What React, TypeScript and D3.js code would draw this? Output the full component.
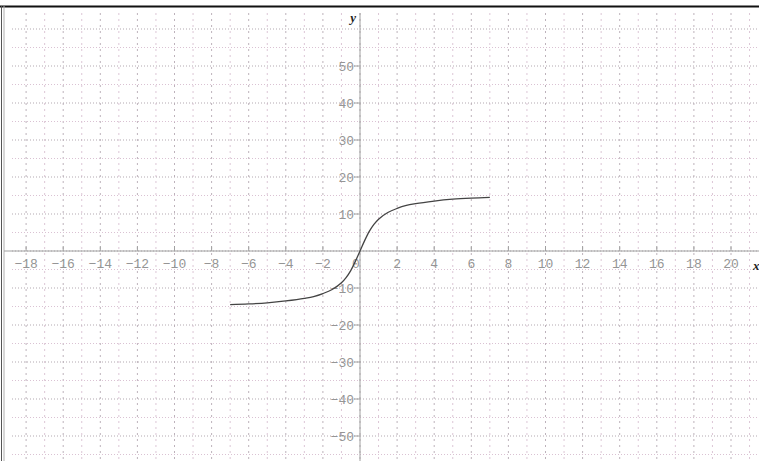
import React from "react";
import * as d3 from "d3";

// Sampled points of the plotted curve
const curveX = [-7, -6, -5, -4, -3, -2.5, -2, -1.5, -1, -0.75, -0.5, -0.25, 0, 0.25, 0.5, 0.75, 1, 1.5, 2, 2.5, 3, 4, 5, 6, 7];
const curveY = [-14.5, -14.3, -14.0, -13.5, -12.8, -12.3, -11.5, -10.4, -8.6, -7.2, -5.3, -2.8, 0, 2.8, 5.3, 7.2, 8.6, 10.4, 11.5, 12.3, 12.8, 13.5, 14.0, 14.3, 14.5];

// Axis tick labels
const xTicks = [-18, -16, -14, -12, -10, -8, -6, -4, -2, 0, 2, 4, 6, 8, 10, 12, 14, 16, 18, 20];
const yTicks = [-50, -40, -30, -20, -10, 10, 20, 30, 40, 50];

const W = 759;
const H = 461;
const gridLeft = 12;
const gridTop = 13;

const x = d3.scaleLinear().domain([-18, 20]).range([360 - 18 * 18.55, 360 + 20 * 18.55]);
const y = d3.scaleLinear().domain([-50, 50]).range([251 + 185, 251 - 185]);

const fmt = (v: number) => (v < 0 ? "\u2212" + Math.abs(v) : String(v));

export default function App() {
  const x0 = x(0);
  const y0 = y(0);

  // grid: vertical lines every unit, horizontal lines every 5 units
  const vLines = d3.range(-19, 22).filter((v) => x(v) >= gridLeft && x(v) <= W);
  const hLines = d3.range(-55, 66, 5).filter((v) => y(v) >= gridTop && y(v) <= H);

  const pts: [number, number][] = curveX.map((v, i) => [v, curveY[i]]);
  const line = d3
    .line<[number, number]>()
    .x((d) => x(d[0]))
    .y((d) => y(d[1]))
    .curve(d3.curveMonotoneX);

  const mono = "'Liberation Mono', 'DejaVu Sans Mono', monospace";
  const labelColor = "#959595";

  return (
    <svg
      width={W}
      height={H}
      style={{ position: "absolute", left: 0, top: 0, display: "block", background: "#fff" }}
    >
      {/* frame */}
      <line x1={0} x2={W} y1={6.5} y2={6.5} stroke="#111" strokeWidth={2} />
      <line x1={1.5} x2={1.5} y1={6} y2={H} stroke="#555" strokeWidth={1} />
      <line x1={4} x2={4} y1={6} y2={H} stroke="#b0b0b0" strokeWidth={1} />

      {/* grid */}
      <g>
        {vLines.map((v) => (
          <line
            key={"v" + v}
            x1={x(v)}
            x2={x(v)}
            y1={gridTop}
            y2={H}
            stroke={v % 2 === 0 ? "#bdb2bb" : "#dcc6d6"}
            strokeWidth={1}
            strokeDasharray="2,4"
          />
        ))}
        {hLines.map((v) => (
          <line
            key={"h" + v}
            x1={gridLeft}
            x2={W}
            y1={y(v)}
            y2={y(v)}
            stroke={v % 10 === 0 ? "#b3a9b1" : "#dac2d3"}
            strokeWidth={1}
            strokeDasharray="1,2"
          />
        ))}
      </g>

      {/* axes */}
      <line x1={gridLeft - 8} x2={W} y1={y0} y2={y0} stroke="#a0a0a0" strokeWidth={1} />
      <line x1={x0} x2={x0} y1={gridTop} y2={H} stroke="#a0a0a0" strokeWidth={1} />

      {/* x ticks and labels */}
      {xTicks.map((v) => (
        <g key={"xt" + v}>
          {v !== 0 && <line x1={x(v)} x2={x(v)} y1={y0 - 5} y2={y0} stroke="#a0a0a0" strokeWidth={1} />}
          <text
            x={v === 0 ? x(v) - 4 : x(v)}
            y={y0 + 17}
            textAnchor="middle"
            fontFamily={mono}
            fontSize={13}
            fill={labelColor}
          >
            {fmt(v)}
          </text>
        </g>
      ))}

      {/* y ticks and labels */}
      {yTicks.map((v) => (
        <g key={"yt" + v}>
          <line x1={x0 - 6} x2={x0} y1={y(v)} y2={y(v)} stroke="#a0a0a0" strokeWidth={1} />
          <text
            x={x0 - 6}
            y={y(v) + 4.5}
            textAnchor="end"
            fontFamily={mono}
            fontSize={13}
            fill={labelColor}
          >
            {fmt(v)}
          </text>
        </g>
      ))}

      {/* axis names */}
      <text
        x={x0 - 4}
        y={gridTop + 9}
        textAnchor="end"
        fontFamily="'Liberation Serif', serif"
        fontStyle="italic"
        fontWeight="bold"
        fontSize={13}
        fill="#222"
      >
        y
      </text>
      <text
        x={753}
        y={y0 + 19}
        fontFamily="'Liberation Serif', serif"
        fontStyle="italic"
        fontWeight="bold"
        fontSize={13}
        fill="#222"
      >
        x
      </text>

      {/* curve */}
      <path d={line(pts) || ""} fill="none" stroke="#444" strokeWidth={1.3} />
    </svg>
  );
}
